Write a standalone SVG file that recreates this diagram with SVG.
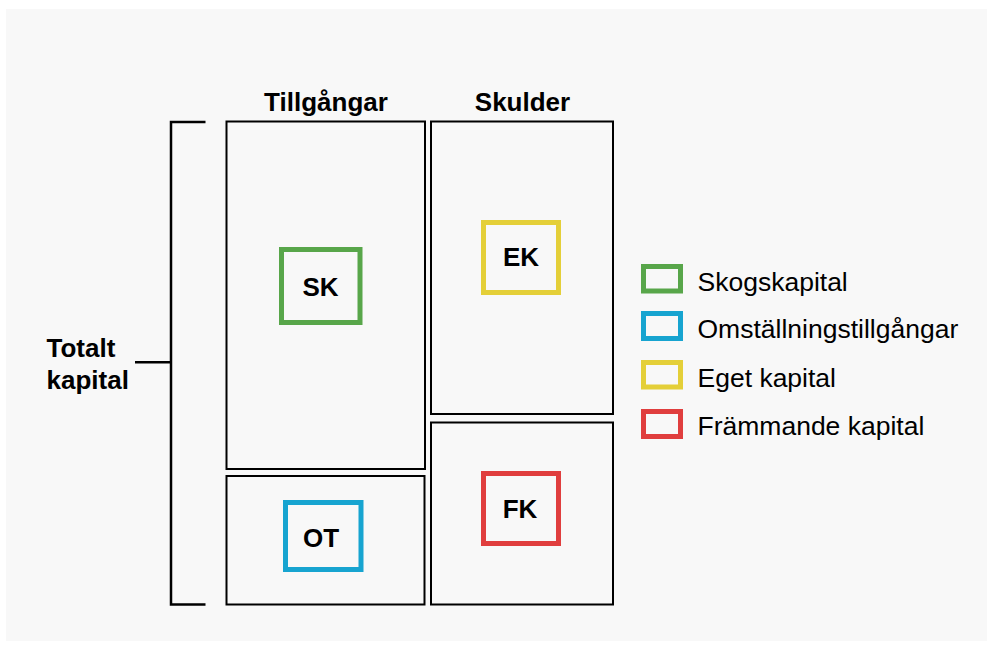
<svg xmlns="http://www.w3.org/2000/svg" width="987" height="646" viewBox="0 0 987 646">
  <style>
    .frame { fill: none; stroke: #000; stroke-width: 2; }
    .key { fill: none; stroke-width: 5; }
    .green { stroke: #58a64a; }
    .blue { stroke: #17a4d0; }
    .yellow { stroke: #e4cf38; }
    .red { stroke: #e03e3e; }
    .bold { font-family: "Liberation Sans", Arial, sans-serif; font-weight: bold; font-size: 26px; fill: #000; }
    .label { font-family: "Liberation Sans", Arial, sans-serif; font-size: 26.5px; fill: #000; }
    .mid { text-anchor: middle; }
    .line { fill: none; stroke: #000; stroke-width: 2.5; }
  </style>

  <!-- page -->
  <rect x="0" y="0" width="987" height="646" fill="#ffffff"/>
  <rect x="6" y="9" width="981" height="632" fill="#f8f8f8"/>

  <!-- column headings -->
  <text class="bold mid" x="326" y="110.5">Tillgångar</text>
  <text class="bold mid" x="522.5" y="110.5">Skulder</text>

  <!-- total capital bracket -->
  <g id="total">
    <text class="bold" x="46.5" y="357">Totalt</text>
    <text class="bold" x="46.5" y="389">kapital</text>
  </g>
  <g id="connectors">
    <path class="line" d="M205.5,122 H171 V604.5 H205.5"/>
    <path class="line" d="M135,362.3 H171"/>
  </g>

  <!-- assets -->
  <g id="sk">
    <rect class="frame" x="226.5" y="121.5" width="198.5" height="347.5"/>
    <rect class="key green" x="281.5" y="249.5" width="78.5" height="73"/>
    <text class="bold mid" x="320.5" y="296">SK</text>
  </g>
  <g id="ot">
    <rect class="frame" x="226.5" y="476" width="198" height="128.5"/>
    <rect class="key blue" x="285.5" y="502.5" width="75.5" height="67"/>
    <text class="bold mid" x="321" y="546.5">OT</text>
  </g>

  <!-- liabilities -->
  <g id="ek">
    <rect class="frame" x="431" y="121.5" width="182" height="292.5"/>
    <rect class="key yellow" x="483.5" y="222.5" width="75" height="70"/>
    <text class="bold mid" x="521" y="266">EK</text>
  </g>
  <g id="fk">
    <rect class="frame" x="431" y="422.5" width="182" height="182"/>
    <rect class="key red" x="483.5" y="473.5" width="75" height="70"/>
    <text class="bold mid" x="520" y="517.5">FK</text>
  </g>

  <!-- legend -->
  <g id="legend">
    <rect class="key green" x="643.5" y="266.5" width="37" height="24.5"/>
    <text class="label" x="697.5" y="290.5">Skogskapital</text>
    <rect class="key blue" x="643.5" y="313.5" width="37" height="25"/>
    <text class="label" x="697.5" y="338">Omställningstillgångar</text>
    <rect class="key yellow" x="643.5" y="362.5" width="37" height="24.5"/>
    <text class="label" x="697.5" y="387">Eget kapital</text>
    <rect class="key red" x="643.5" y="411.5" width="37" height="25"/>
    <text class="label" x="697.5" y="435">Främmande kapital</text>
  </g>
</svg>
